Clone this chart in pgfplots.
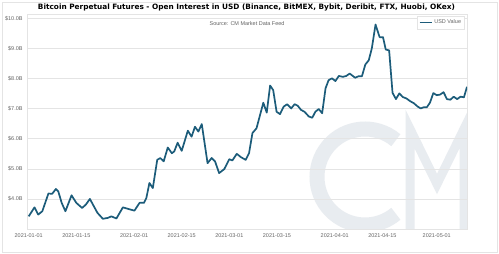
\documentclass[border=0pt]{standalone}
\usepackage{pgfplots}
\pgfplotsset{compat=1.18}
\usepackage{fontspec}
\setmainfont{Liberation Sans}
\newfontfamily\titlefont{DejaVu Sans}
\definecolor{linecol}{RGB}{28,92,122}
\definecolor{gridcol}{RGB}{228,228,228}
\definecolor{tickcol}{RGB}{100,100,100}
\definecolor{wmcol}{RGB}{232,236,240}
\begin{document}
\begin{tikzpicture}
\useasboundingbox (-27bp,-25bp) rectangle (472bp,229bp);
\fill[white] (-27bp,-25bp) rectangle (472bp,229bp);
\draw[gridcol,line width=0.6bp] (-25bp,-23bp) rectangle (470bp,227bp);
% watermark logo (drawn shapes)
\begin{scope}
\clip (0,0) rectangle (440bp,215bp);
\draw[wmcol,line width=15bp] (338bp,52bp) ++(50:48bp) arc[start angle=50,end angle=310,radius=48bp];
\draw[wmcol,line width=9bp,line join=miter] (383bp,-5bp) -- (383bp,100bp) -- (410bp,45bp) -- (437bp,100bp) -- (437bp,-5bp);
\end{scope}
\begin{axis}[
  at={(0,0)}, anchor=south west,
  scale only axis, width=440bp, height=215bp,
  xmin=-0.5, xmax=128.9, ymin=3.0, ymax=10.15,
  xtick={0,14,31,45,59,73,90,104,120},
  xticklabels={2021-01-01,2021-01-15,2021-02-01,2021-02-15,2021-03-01,2021-03-15,2021-04-01,2021-04-15,2021-05-01},
  ytick={4,5,6,7,8,9,10},
  yticklabels={\$4.0B,\$5.0B,\$6.0B,\$7.0B,\$8.0B,\$9.0B,\$10.0B},
  major tick length=0pt,
  ymajorgrids, grid style={gridcol,line width=0.7bp},
  axis line style={gridcol,line width=0.7bp},
  ticklabel style={font=\fontsize{5.5}{6}\selectfont, text=tickcol},
  yticklabel style={xshift=-1bp},
  xticklabel style={yshift=-1.5bp},
  legend style={at={(rel axis cs:0.995,0.99)}, anchor=north east, draw=gridcol, line width=0.5bp,
    font=\fontsize{5.5}{6}\selectfont, text=tickcol, inner sep=1.5bp, row sep=0pt},
  legend cell align=left,
  legend image code/.code={\draw[linecol,line width=1.6bp] (0bp,0bp) -- (12bp,0bp);},
]
\addplot[linecol, line width=1.7bp, line join=round] coordinates {
(0,3.42) (1.7,3.72) (2.8,3.48) (4,3.59) (5.8,4.18) (6.9,4.17) (8,4.33) (8.7,4.25)
(9.7,3.87) (10.8,3.59) (12.6,4.12) (14,3.87) (15.7,3.70) (16.8,3.81) (18,4.0) (18.9,3.81)
(20.2,3.54) (21.8,3.34) (23.3,3.37) (24.3,3.42) (25.8,3.35) (27.7,3.72) (29.2,3.67) (31.1,3.61)
(32.6,3.87) (33.9,3.87) (34.6,4.03) (35.5,4.53) (36.5,4.36) (37.8,5.30) (38.7,5.36) (39.7,5.25)
(40.9,5.71) (42.1,5.52) (42.8,5.58) (43.8,5.87) (45,5.60) (46.8,6.27) (47.9,6.07) (48.9,6.40)
(49.9,6.24) (50.9,6.49) (52.6,5.19) (53.8,5.36) (54.8,5.25) (56,4.86) (57.5,4.99) (59,5.32)
(59.9,5.28) (61.2,5.50) (62.4,5.39) (63.8,5.30) (64.8,5.52) (65.8,6.19) (67,6.35) (69,7.20)
(70,6.87) (71,7.77) (71.9,7.62) (72.9,6.90) (73.9,6.82) (75,7.07) (76,7.15) (77.2,7.01)
(78.2,7.15) (79.1,7.10) (80.1,6.96) (81.1,6.90) (82.4,6.74) (83.4,6.70) (84.3,6.90) (85.3,6.99)
(86.3,6.85) (87.3,7.68) (88.2,7.95) (89.2,8.01) (90.2,7.92) (91.2,8.09) (92.4,8.06) (93.4,8.09)
(94.4,8.17) (96,8.03) (97,8.08) (98,8.08) (99,8.47) (100,8.61) (100.9,9.0) (102,9.80)
(103.2,9.38) (104.2,9.38) (105,8.97) (106,8.94) (107,7.53) (108,7.32) (109,7.51) (110,7.39)
(111.1,7.34) (112.2,7.25) (113.3,7.18) (114.4,7.07) (115.3,7.01) (116.2,7.05) (117.1,7.05) (118,7.20)
(119,7.52) (120,7.45) (121,7.47) (122,7.55) (123,7.32) (124,7.30) (125,7.40) (126,7.32)
(127,7.40) (128,7.38) (128.9,7.73)
};
\addlegendentry{USD Value}
\node[font=\fontsize{5.5}{6}\selectfont, text=tickcol] at (rel axis cs:0.5,0.955) {Source: CM Market Data Feed};
\end{axis}
\node[anchor=center] at (219.5bp,221bp) {\resizebox{417bp}{!}{\titlefont\bfseries Bitcoin Perpetual Futures - Open Interest in USD (Binance, BitMEX, Bybit, Deribit, FTX, Huobi, OKex)}};
\end{tikzpicture}
\end{document}
